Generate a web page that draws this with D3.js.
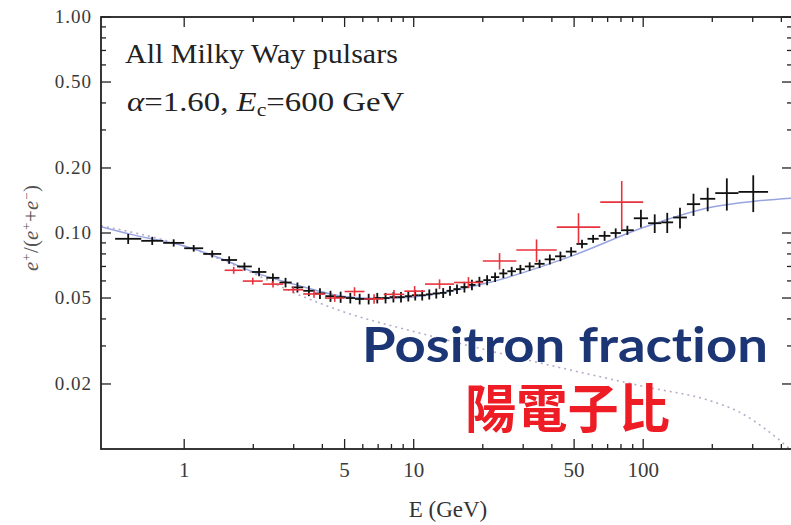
<!DOCTYPE html>
<html lang="en">
<head>
<meta charset="UTF-8">
<title>Positron fraction</title>
<script src="https://d3js.org/d3.v7.min.js"></script>
<style>
body { margin: 0; background: #fff; }
svg { display: block; }
.serif { font-family: "Liberation Serif", "DejaVu Serif", serif; }
text { font-variant-ligatures: none; }
</style>
</head>
<body>
<svg width="791" height="525"></svg>
<script>
// black crosses: bin edges (GeV), fraction, error
var blackEdges = [0.5,0.65,0.81,1.0,1.21,1.45,1.7,1.97,2.28,2.6,2.94,3.3,3.7,4.12,4.57,5.05,5.55,6.09,6.65,7.24,7.85,8.48,9.14,9.82,10.5,11.3,12.1,13.0,13.9,14.9,16.0,17.3,18.6,20.1,21.7,23.6,25.6,27.9,30.5,33.6,37.2,41.3,46.0,51.2,57.2,64.0,72.0,80.0,91,105,120,135,155,177,206,260,350];
var blackVal = [0.094,0.092,0.090,0.085,0.080,0.075,0.070,0.066,0.062,0.059,
  0.056,0.054,0.0525,0.051,0.0505,0.050,0.0495,0.0495,0.050,0.050,
  0.0505,0.0505,0.051,0.0515,0.0515,0.052,0.0525,0.0528,0.054,0.055,
  0.0562,0.0575,0.0595,0.0605,0.0625,0.065,0.0665,0.068,0.070,0.072,
  0.0755,0.078,0.082,0.089,0.094,0.097,0.100,0.103,0.117,0.111,
  0.112,0.118,0.136,0.144,0.153,0.155];
var blackErr = [0.005,0.004,0.0035,0.003,0.003,0.003,0.003,0.003,0.003,0.003,
  0.003,0.003,0.003,0.003,0.003,0.0028,0.0028,0.0028,0.0028,0.0028,
  0.0028,0.0028,0.0028,0.0028,0.0028,0.0028,0.0028,0.0028,0.0028,0.0028,
  0.0032,0.0032,0.0032,0.0032,0.0032,0.0032,0.0032,0.0032,0.0032,0.0032,
  0.004,0.004,0.004,0.004,0.004,0.005,0.005,0.005,0.011,0.011,
  0.012,0.013,0.016,0.018,0.026,0.030];

// red crosses
var redEdges = [1.5,1.8,2.2,2.7,3.3,4.1,5.0,6.1,7.4,9.1,11.2,15,20,28,42,65,100];
var redVal = [0.0672,0.0599,0.058,0.0546,0.0522,0.050,0.0536,0.0495,0.052,0.0538,0.058,0.059,0.0742,0.0834,0.1065,0.139];
var redErr = [0.0025,0.0022,0.002,0.002,0.002,0.002,0.0025,0.0025,0.0025,0.003,0.003,0.0035,0.0065,0.010,0.017,0.035];

// model curve (blue) and secondary background (dotted)
var modelE = [0.434,0.6,1,1.5,2,3,5,7,10,20,50,100,200,300,445];
var modelV = [0.107,0.098,0.087,0.075,0.066,0.058,0.0508,0.0497,0.0506,0.058,0.079,0.106,0.132,0.14,0.145];
var secE = [0.434,1,2,3,5,10,20,50,100,200,260,340,445];
var secV = [0.108,0.087,0.065,0.053,0.043,0.035,0.029,0.023,0.0195,0.0166,0.0149,0.0124,0.0098];

// ticks
var xTickVals = [1,5,10,50,100];
var xTickLabels = ["1","5","10","50","100"];
var xMinor = [2,3,4,6,7,8,9,20,30,40,60,70,80,90,200,300,400];
var yTickVals = [1,0.5,0.2,0.1,0.05,0.02];
var yTickLabels = ["1.00","0.50","0.20","0.10","0.05","0.02"];
var yMinor = [0.9,0.8,0.7,0.6,0.4,0.3,0.09,0.08,0.07,0.06,0.04,0.03];

var pLeft = 101, pRight = 792, pTop = 17, pBottom = 449;

var svg = d3.select("svg");
var x = d3.scaleLog().domain([0.434, 445]).range([pLeft, pRight]);
var y = d3.scaleLog().domain([0.01, 1]).range([pBottom, pTop]);

svg.append("defs").append("clipPath").attr("id", "plot")
  .append("rect").attr("x", pLeft).attr("y", pTop)
  .attr("width", pRight - pLeft).attr("height", pBottom - pTop);

// stretch a text to a given width
function fitWidth(sel, x0, w) {
  var bw = sel.node().getBBox().width;
  var k = w / bw;
  sel.attr("transform", "translate(" + x0 + ",0) scale(" + k + ",1) translate(" + (-x0) + ",0)");
}

var plot = svg.append("g").attr("clip-path", "url(#plot)");

// curves
var line = d3.line()
  .x(function(d) { return x(d[0]) })
  .y(function(d) { return y(d[1]) })
  .curve(d3.curveMonotoneX);

plot.append("path")
  .datum(secE.map(function(e, i) { return [e, secV[i]] }))
  .attr("d", line)
  .attr("fill", "none")
  .attr("stroke", "#b9aac9")
  .attr("stroke-width", 1.6)
  .attr("stroke-dasharray", "2,4");

plot.append("path")
  .datum(modelE.map(function(e, i) { return [e, modelV[i]] }))
  .attr("d", line)
  .attr("fill", "none")
  .attr("stroke", "#98a4e0")
  .attr("stroke-width", 1.5);

function drawCrosses(edges, vals, errs, color, w) {
  var g = plot.append("g").attr("stroke", color).attr("stroke-width", w);
  vals.forEach(function(v, i) {
    var e0 = edges[i], e1 = edges[i + 1];
    var xc = x(Math.sqrt(e0 * e1));
    g.append("line")
      .attr("x1", x(e0)).attr("x2", x(e1))
      .attr("y1", y(v)).attr("y2", y(v));
    g.append("line")
      .attr("x1", xc).attr("x2", xc)
      .attr("y1", y(v + errs[i])).attr("y2", y(v - errs[i]));
  });
}

drawCrosses(blackEdges, blackVal, blackErr, "#111", 1.8);
drawCrosses(redEdges, redVal, redErr, "#e8323c", 1.6);

// frame
svg.append("rect")
  .attr("x", pLeft).attr("y", pTop)
  .attr("width", pRight - pLeft).attr("height", pBottom - pTop)
  .attr("fill", "none").attr("stroke", "#222").attr("stroke-width", 1.8);

var ticks = svg.append("g").attr("stroke", "#222").attr("stroke-width", 1.3);
function xTick(v, len) {
  ticks.append("line").attr("x1", x(v)).attr("x2", x(v)).attr("y1", pBottom).attr("y2", pBottom - len);
  ticks.append("line").attr("x1", x(v)).attr("x2", x(v)).attr("y1", pTop).attr("y2", pTop + len);
}
function yTick(v, len) {
  ticks.append("line").attr("x1", pLeft).attr("x2", pLeft + len).attr("y1", y(v)).attr("y2", y(v));
  ticks.append("line").attr("x1", pRight).attr("x2", pRight - len).attr("y1", y(v)).attr("y2", y(v));
}
xTickVals.forEach(function(v) { xTick(v, 10) });
xMinor.forEach(function(v) { xTick(v, 5) });
yTickVals.forEach(function(v) { yTick(v, 10) });
yMinor.forEach(function(v) { yTick(v, 5) });

// tick labels
svg.append("g").selectAll("text")
  .data(xTickVals)
  .enter().append("text")
  .attr("class", "serif")
  .attr("x", function(d) { return x(d) })
  .attr("y", 477)
  .attr("text-anchor", "middle")
  .attr("font-size", 21)
  .attr("fill", "#3a3a3a")
  .text(function(d, i) { return xTickLabels[i] });

svg.append("g").selectAll("text")
  .data(yTickVals)
  .enter().append("text")
  .attr("class", "serif")
  .attr("x", 92)
  .attr("y", function(d) { return y(d) + 6 })
  .attr("text-anchor", "end")
  .attr("font-size", 19)
  .attr("letter-spacing", 1)
  .attr("fill", "#3a3a3a")
  .text(function(d, i) { return yTickLabels[i] });

// axis titles
svg.append("text")
  .attr("class", "serif")
  .attr("x", 448).attr("y", 517)
  .attr("text-anchor", "middle")
  .attr("font-size", 23)
  .attr("fill", "#333")
  .text("E (GeV)");

var yl = svg.append("text")
  .attr("class", "serif")
  .attr("transform", "translate(38,228) rotate(-90)")
  .attr("text-anchor", "middle")
  .attr("font-size", 21)
  .attr("font-style", "italic")
  .attr("fill", "#555");
yl.append("tspan").text("e");
yl.append("tspan").attr("baseline-shift", "super").attr("font-size", 13).text("+");
yl.append("tspan").attr("font-style", "normal").text("/(");
yl.append("tspan").text("e");
yl.append("tspan").attr("baseline-shift", "super").attr("font-size", 13).text("+");
yl.append("tspan").attr("font-style", "normal").text("+");
yl.append("tspan").text("e");
yl.append("tspan").attr("baseline-shift", "super").attr("font-size", 13).text("\u2212");
yl.append("tspan").attr("font-style", "normal").text(")");

// annotation texts
var t1 = svg.append("text")
  .attr("class", "serif")
  .attr("x", 125).attr("y", 63)
  .attr("font-size", 27)
  .attr("fill", "#222")
  .text("All Milky Way pulsars");
fitWidth(t1, 125, 273);

var t2 = svg.append("text")
  .attr("class", "serif")
  .attr("x", 127).attr("y", 111)
  .attr("font-size", 27)
  .attr("fill", "#222");
t2.append("tspan").attr("font-style", "italic").text("\u03b1");
t2.append("tspan").text("=1.60, ");
t2.append("tspan").attr("font-style", "italic").text("E");
t2.append("tspan").attr("font-size", 18).attr("dy", 5).text("c");
t2.append("tspan").attr("dy", -5).text("=600 GeV");
fitWidth(t2, 127, 278);

var t3 = svg.append("text")
  .attr("x", 362).attr("y", 362)
  .attr("font-family", "Lato, 'Open Sans', sans-serif")
  .attr("font-weight", "bold")
  .attr("font-size", 48)
  .attr("fill", "#1b3575")
  .text("Positron fraction");
fitWidth(t3, 362, 406);

var t4 = svg.append("text")
  .attr("x", 465).attr("y", 428)
  .attr("font-family", "'Noto Sans CJK TC', 'Noto Sans CJK JP', sans-serif")
  .attr("font-weight", "bold")
  .attr("font-size", 52)
  .attr("fill", "#ee1c25")
  .text("陽電子比");
fitWidth(t4, 465, 205);
</script>
</body>
</html>
